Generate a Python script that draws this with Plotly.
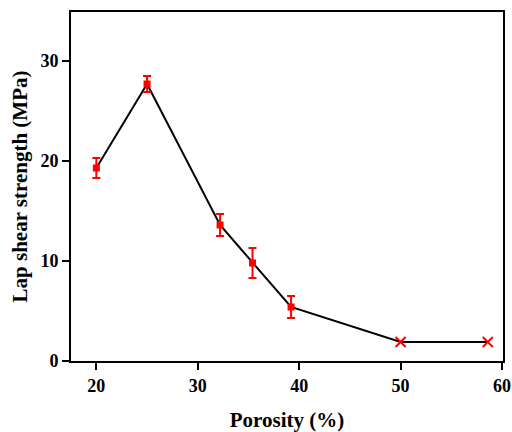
import plotly.graph_objects as go

porosity = [20.0, 25.0, 32.2, 35.4, 39.2]
strength = [19.3, 27.7, 13.6, 9.8, 5.4]
strength_err = [1.0, 0.8, 1.1, 1.5, 1.1]
porosity_fail = [50.0, 58.6]
strength_fail = [1.9, 1.9]

line_x = porosity + porosity_fail
line_y = strength + strength_fail

font_family = "Liberation Serif"

fig = go.Figure()
fig.add_trace(go.Scatter(
    x=line_x, y=line_y, mode="lines",
    line=dict(color="black", width=2), showlegend=False, hoverinfo="skip"))
fig.add_trace(go.Scatter(
    x=porosity, y=strength, mode="markers",
    marker=dict(symbol="square", size=7, color="#ff0000"),
    error_y=dict(type="data", array=strength_err, visible=True,
                 color="#ff0000", thickness=2, width=4),
    showlegend=False))
fig.add_trace(go.Scatter(
    x=porosity_fail, y=strength_fail, mode="markers",
    marker=dict(symbol="x-thin", size=10, color="#ff0000",
                line=dict(color="#ff0000", width=2)),
    showlegend=False))

axis_common = dict(
    showline=True, linecolor="black", linewidth=2, mirror=True,
    ticks="outside", ticklen=7, tickwidth=2, tickcolor="black",
    showgrid=False, zeroline=False, automargin=False,
    tickfont=dict(family=font_family, size=18, color="black", weight="bold"),
)

fig.update_xaxes(
    range=[17.5, 60.1], tickvals=[20, 30, 40, 50, 60],
    title=dict(text="Porosity (%)",
               font=dict(family=font_family, size=21, color="black", weight="bold"),
               standoff=18),
    **axis_common)
fig.update_yaxes(
    range=[0, 34.9], tickvals=[0, 10, 20, 30],
    title=dict(text="Lap shear strength (MPa)",
               font=dict(family=font_family, size=21, color="black", weight="bold"),
               standoff=7),
    **axis_common)

fig.update_layout(
    width=512, height=432,
    margin=dict(l=71, r=9, t=12, b=71),
    plot_bgcolor="white", paper_bgcolor="white",
    font=dict(family=font_family, color="black"),
)

fig.write_html("out.html")
